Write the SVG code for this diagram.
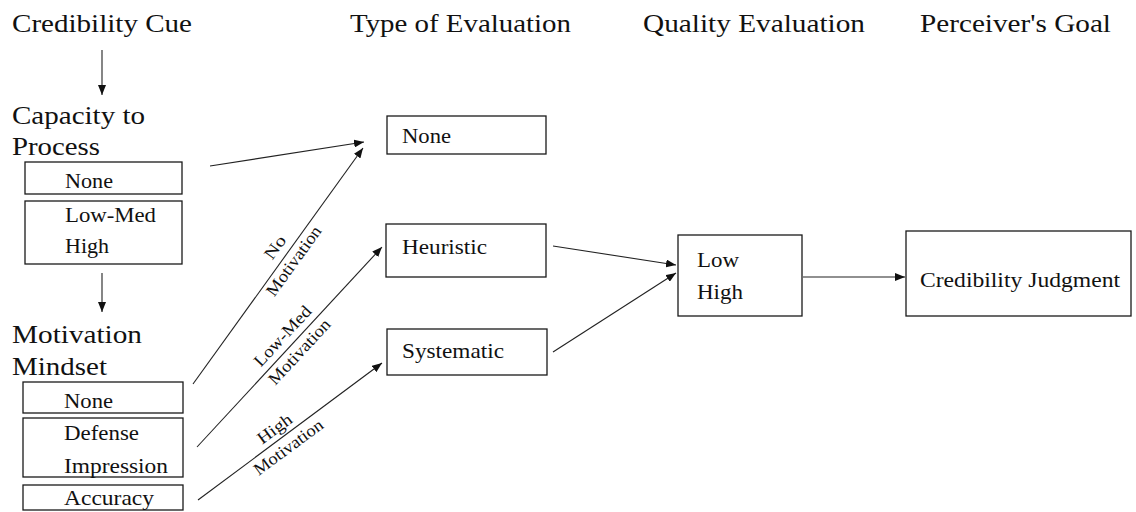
<svg xmlns="http://www.w3.org/2000/svg" width="1136" height="512" viewBox="0 0 1136 512">
<style>
text{font-family:"Liberation Serif","Times New Roman",serif;fill:#111}
.h{font-size:26px}
.b{font-size:21px}
.l{font-size:17px}
rect{fill:#fff;stroke:#1a1a1a;stroke-width:1.3}
.c line{stroke:#222;stroke-width:1.1;marker-end:url(#ah)}
</style>
<defs>
<marker id="ah" markerUnits="userSpaceOnUse" markerWidth="10" markerHeight="8" refX="10" refY="4" orient="auto">
<path d="M0,0 L10,4 L0,8 z" fill="#111"/>
</marker>
</defs>
<rect x="0" y="0" width="1136" height="512" style="stroke:none;fill:#fff"/>
<g id="headers">
<text class="h" x="12" y="32" textLength="180" lengthAdjust="spacingAndGlyphs">Credibility Cue</text>
<text class="h" x="350" y="32" textLength="221" lengthAdjust="spacingAndGlyphs">Type of Evaluation</text>
<text class="h" x="643" y="32" textLength="222" lengthAdjust="spacingAndGlyphs">Quality Evaluation</text>
<text class="h" x="920" y="32" textLength="191" lengthAdjust="spacingAndGlyphs">Perceiver's Goal</text>
</g>
<g id="capacity-title">
<text class="h" x="12" y="124" textLength="133" lengthAdjust="spacingAndGlyphs">Capacity to</text>
<text class="h" x="12" y="155" textLength="88" lengthAdjust="spacingAndGlyphs">Process</text>
</g>
<g id="cap-none">
<rect x="25" y="162" width="157" height="32"/>
<text class="b" x="65" y="188" textLength="48" lengthAdjust="spacingAndGlyphs">None</text>
</g>
<g id="cap-lowmed-high">
<rect x="25" y="201" width="157" height="63"/>
<text class="b" x="65" y="222" textLength="91" lengthAdjust="spacingAndGlyphs">Low-Med</text>
<text class="b" x="65" y="253" textLength="44" lengthAdjust="spacingAndGlyphs">High</text>
</g>
<g id="motivation-title">
<text class="h" x="12" y="343" textLength="130" lengthAdjust="spacingAndGlyphs">Motivation</text>
<text class="h" x="12" y="375" textLength="95" lengthAdjust="spacingAndGlyphs">Mindset</text>
</g>
<g id="mot-none">
<rect x="23" y="382" width="160" height="31"/>
<text class="b" x="64" y="408" textLength="49" lengthAdjust="spacingAndGlyphs">None</text>
</g>
<g id="mot-defense-impression">
<rect x="23" y="418" width="160" height="59"/>
<text class="b" x="64" y="440" textLength="75" lengthAdjust="spacingAndGlyphs">Defense</text>
<text class="b" x="64" y="473" textLength="104" lengthAdjust="spacingAndGlyphs">Impression</text>
</g>
<g id="mot-accuracy">
<rect x="23" y="485" width="160" height="25"/>
<text class="b" x="64" y="505" textLength="90" lengthAdjust="spacingAndGlyphs">Accuracy</text>
</g>
<g id="type-none">
<rect x="387" y="116" width="159" height="38"/>
<text class="b" x="402" y="143" textLength="49" lengthAdjust="spacingAndGlyphs">None</text>
</g>
<g id="type-heuristic">
<rect x="386" y="224" width="160" height="53"/>
<text class="b" x="402" y="254" textLength="85" lengthAdjust="spacingAndGlyphs">Heuristic</text>
</g>
<g id="type-systematic">
<rect x="387" y="329" width="160" height="46"/>
<text class="b" x="402" y="358" textLength="102" lengthAdjust="spacingAndGlyphs">Systematic</text>
</g>
<g id="quality">
<rect x="678" y="235" width="124" height="81"/>
<text class="b" x="697" y="267" textLength="42" lengthAdjust="spacingAndGlyphs">Low</text>
<text class="b" x="697" y="299" textLength="46" lengthAdjust="spacingAndGlyphs">High</text>
</g>
<g id="judgment">
<rect x="906" y="231" width="225" height="85"/>
<text class="b" x="920" y="287" textLength="200" lengthAdjust="spacingAndGlyphs">Credibility Judgment</text>
</g>
<g id="connectors" class="c">
<line x1="102" y1="50" x2="102" y2="95"/>
<line x1="102" y1="273" x2="102" y2="312"/>
<line x1="210" y1="166" x2="364" y2="142"/>
<line x1="193" y1="384" x2="363" y2="148"/>
<line x1="197" y1="447" x2="382" y2="247"/>
<line x1="198" y1="500" x2="382" y2="363"/>
<line x1="553" y1="246" x2="676" y2="265"/>
<line x1="553" y1="352" x2="676" y2="273"/>
<line x1="803" y1="277" x2="905" y2="277"/>
<g transform="translate(284.5,254.2) rotate(-54.2)">
<text class="l" x="0" y="-6" text-anchor="middle" textLength="25" lengthAdjust="spacingAndGlyphs">No</text>
<text class="l" x="0" y="17" text-anchor="middle" textLength="82" lengthAdjust="spacingAndGlyphs">Motivation</text>
</g>
<g transform="translate(291,344) rotate(-47.2)">
<text class="l" x="0" y="-6" text-anchor="middle" textLength="76" lengthAdjust="spacingAndGlyphs">Low-Med</text>
<text class="l" x="0" y="17" text-anchor="middle" textLength="83" lengthAdjust="spacingAndGlyphs">Motivation</text>
</g>
<g transform="translate(281.5,438) rotate(-36.5)">
<text class="l" x="0" y="-6" text-anchor="middle" textLength="39" lengthAdjust="spacingAndGlyphs">High</text>
<text class="l" x="0" y="17" text-anchor="middle" textLength="82" lengthAdjust="spacingAndGlyphs">Motivation</text>
</g>
</g>
</svg>
